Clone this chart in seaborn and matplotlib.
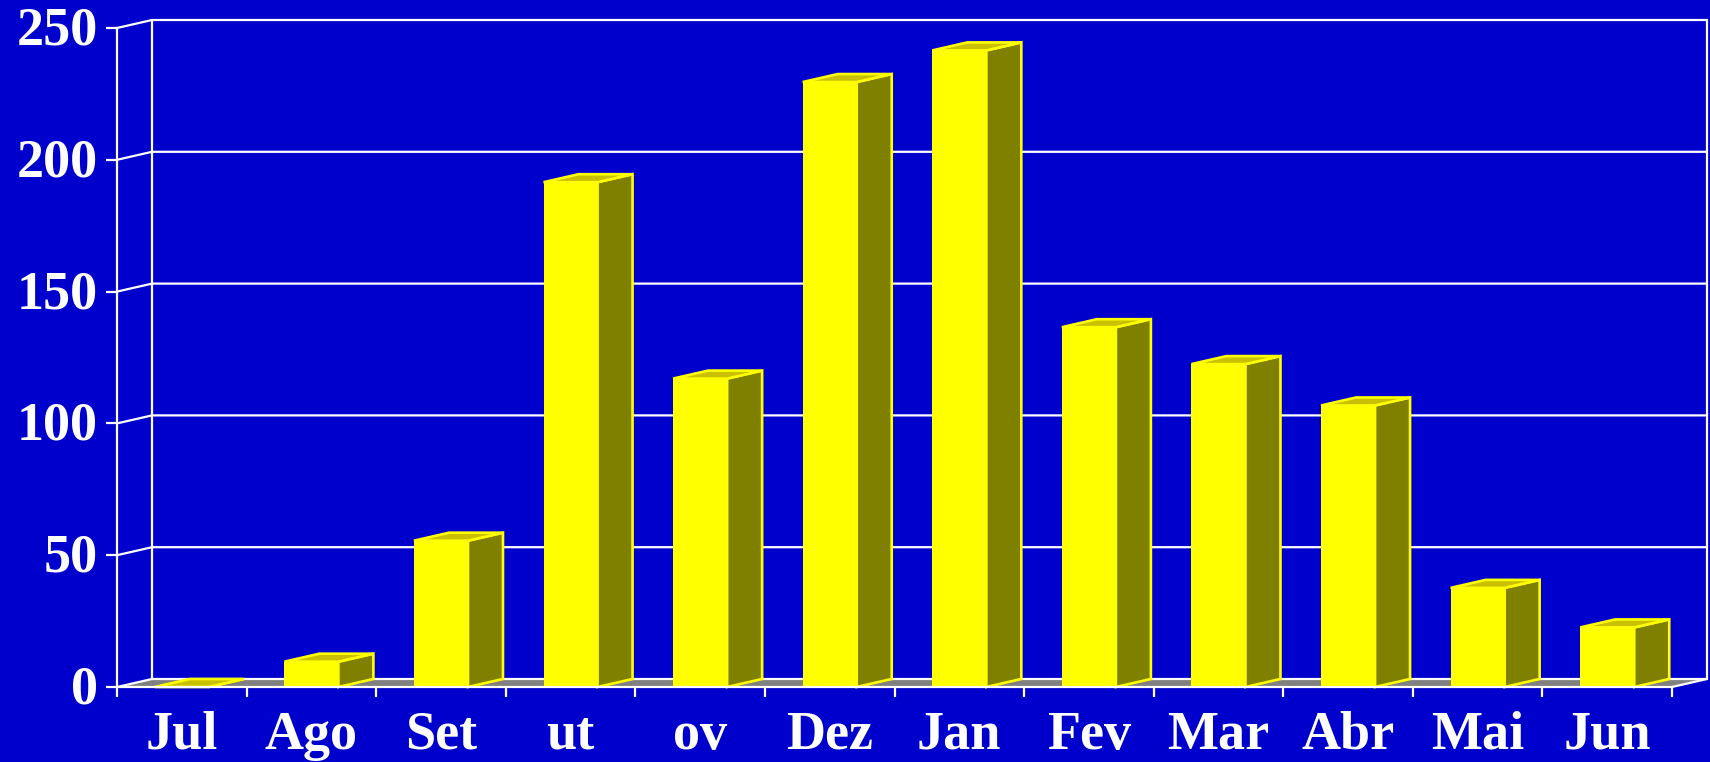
import matplotlib
matplotlib.use("Agg")
import matplotlib.pyplot as plt
import seaborn as sns
import pandas as pd
from matplotlib.patches import Polygon, Rectangle
from matplotlib.transforms import ScaledTranslation

months = ["Jul", "Ago", "Set", "ut", "ov", "Dez", "Jan", "Fev", "Mar", "Abr", "Mai", "Jun"]
values = [0, 9.6, 55.5, 191.5, 117, 229.5, 241.5, 136.5, 122.5, 106.8, 37.6, 22.6]
y_ticks = [0, 50, 100, 150, 200, 250]

BG = "#0000CC"
YELLOW = "#FFFF00"
TOP = "#C8C000"
SIDE = "#808000"
FLOOR = "#808080"
WHITE = "#FFFFFF"

sns.set_style("white")
plt.rcParams["font.family"] = ["Liberation Serif", "DejaVu Serif"]

df = pd.DataFrame({"month": months, "value": values})

fig = plt.figure(figsize=(17.1, 7.62), dpi=100, facecolor=BG)
ax = fig.add_axes([117 / 1710, 75 / 762, 1555 / 1710, 659 / 762], facecolor=BG)
ax.patch.set_alpha(0)

sns.barplot(data=df, x="month", y="value", color=YELLOW, width=0.417, saturation=1,
            linewidth=0, ax=ax, zorder=5)
ax.set_xlim(-0.5, 11.5)
ax.set_ylim(0, 250)
ax.set_xlabel("")
ax.set_ylabel("")

# depth of the fake 3d, in data units
dx = 35 / 1555 * 12
dy = 8 / 659 * 250
left, right = ax.get_xlim()
lw = 1.6
edge_lw = 1.9

bars = [p for p in ax.patches if isinstance(p, Rectangle)]

# floor
ax.add_patch(Polygon([(left, 0), (right, 0), (right + dx, dy), (left + dx, dy)],
                     closed=True, fc=FLOOR, ec="none", clip_on=False, zorder=1))
ax.plot([left + dx, right + dx], [dy, dy], color=WHITE, lw=lw, clip_on=False, zorder=2)

# back wall and side wall lines
for t in y_ticks[1:]:
    ax.plot([left, left + dx, right + dx], [t, t + dy, t + dy], color=WHITE, lw=lw,
            clip_on=False, zorder=2)
ax.plot([left, left + dx], [0, dy], color=WHITE, lw=lw, clip_on=False, zorder=2)
ax.plot([right, right + dx], [0, dy], color=WHITE, lw=lw, clip_on=False, zorder=2)
ax.plot([left + dx, left + dx], [dy, 250 + dy], color=WHITE, lw=lw, clip_on=False, zorder=2)
ax.plot([right + dx, right + dx], [dy, 250 + dy], color=WHITE, lw=lw, clip_on=False, zorder=2)

# top and side of each bar, taken from the bars seaborn drew
for bar in bars:
    x0 = bar.get_x()
    x1 = x0 + bar.get_width()
    h = bar.get_height()
    ax.add_patch(Polygon([(x1, 0), (x1 + dx, dy), (x1 + dx, h + dy), (x1, h)], closed=True,
                         fc=SIDE, ec=YELLOW, lw=edge_lw, clip_on=False, zorder=4))
    ax.add_patch(Polygon([(x0, h), (x1, h), (x1 + dx, h + dy), (x0 + dx, h + dy)], closed=True,
                         fc=TOP, ec=YELLOW, lw=edge_lw, clip_on=False, zorder=4))

# axes
sns.despine(ax=ax, top=True, right=True)
for s in ["left", "bottom"]:
    ax.spines[s].set_color(WHITE)
    ax.spines[s].set_linewidth(lw)
    ax.spines[s].set_zorder(6)

ax.set_yticks(y_ticks)
ax.set_xticks(range(len(months)))
ax.set_xticklabels(months)
ax.set_xticks([i - 0.5 for i in range(len(months) + 1)], minor=True)
ax.tick_params(axis="y", length=8, width=lw, color=WHITE, left=True, pad=6,
               labelcolor=WHITE, labelsize=39)
ax.tick_params(axis="x", which="major", length=0, bottom=False, pad=17,
               labelcolor=WHITE, labelsize=39)
ax.tick_params(axis="x", which="minor", length=7, width=lw, color=WHITE, bottom=True)
for lab in ax.get_xticklabels() + ax.get_yticklabels():
    lab.set_fontweight("bold")

# nudge the y labels up a little
nudge = ScaledTranslation(0, 2.5 / 100, fig.dpi_scale_trans)
for lab in ax.get_yticklabels():
    lab.set_transform(lab.get_transform() + nudge)

fig.savefig("out.png", dpi=100, facecolor=BG)
